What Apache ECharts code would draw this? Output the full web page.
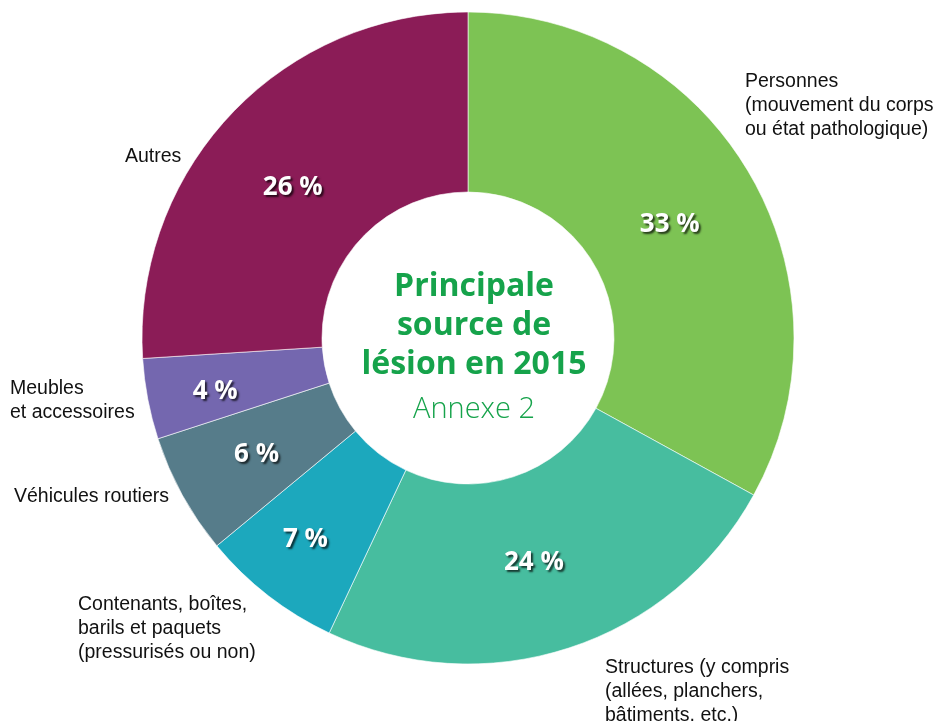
<!DOCTYPE html>
<html><head><meta charset="utf-8">
<script src="https://cdn.jsdelivr.net/npm/echarts@6/dist/echarts.min.js"></script>
<style>html,body{margin:0;padding:0;background:#fff}#c{width:940px;height:721px}</style>
</head><body><div id="c"></div>
<script>
const categories = [
  "Personnes\n(mouvement du corps\nou état pathologique)",
  "Structures (y compris\n(allées, planchers,\nbâtiments, etc.)",
  "Contenants, boîtes,\nbarils et paquets\n(pressurisés ou non)",
  "Véhicules routiers",
  "Meubles\net accessoires",
  "Autres"
];
const values = [33, 24, 7, 6, 4, 26];
const colors = ["#7dc354", "#47bd9f", "#1ca8bd", "#567c8a", "#7467af", "#8b1c57"];
// outer label anchor (left, top) for each category
const labelPos = [[745, 70], [605, 656], [78, 593], [14, 485], [10, 377], [125, 145]];
// fine shift of the percentage labels
const pctShift = [[-4, 8], [-8, -3], [-16, 13], [-2, 1], [-18, 9], [-1, 13]];

const chart = echarts.init(document.getElementById('c'));
const data = categories.map((n, i) => ({ name: n, value: values[i], itemStyle: { color: colors[i] } }));
chart.setOption({
  animation: false,
  title: {
    text: '{b|Principale}\n{b|source de}\n{b|lésion en 2015}\n{n|Annexe 2}',
    left: 469, top: 262, textAlign: 'center',
    textStyle: {
      rich: {
        b: { fontFamily: 'Open Sans', fontWeight: 'bold', fontSize: 32, color: '#16a34b', lineHeight: 39, align: 'center' },
        n: { fontFamily: 'Open Sans', fontWeight: 300, fontSize: 29, color: '#16a34b', lineHeight: 52, align: 'center' }
      }
    }
  },
  series: [
    {
      type: 'pie', center: [468, 338], radius: [146, 326], startAngle: 90, clockwise: true,
      data: data,
      itemStyle: { borderColor: '#fff', borderWidth: 0.6 },
      label: {
        position: 'inside', formatter: p => p.value + ' %',
        fontFamily: 'Open Sans', fontWeight: 'bold', fontSize: 26, color: '#fff',
        textShadowColor: 'rgba(0,0,0,0.7)', textShadowBlur: 2, textShadowOffsetX: 2, textShadowOffsetY: 2
      },
      labelLayout: p => ({ dx: pctShift[p.dataIndex][0], dy: pctShift[p.dataIndex][1] }),
      labelLine: { show: false }, silent: true
    },
    {
      type: 'pie', center: [468, 338], radius: [146, 326], startAngle: 90, clockwise: true,
      data: categories.map((n, i) => ({ name: n, value: values[i] })),
      itemStyle: { color: 'rgba(0,0,0,0)' },
      label: {
        position: 'outside', formatter: '{b}', fontFamily: 'Liberation Sans', fontSize: 19.5,
        color: '#111', lineHeight: 24, align: 'left', overflow: 'none'
      },
      labelLine: { show: false },
      labelLayout: p => ({ x: labelPos[p.dataIndex][0], y: labelPos[p.dataIndex][1], align: 'left', verticalAlign: 'top' }),
      silent: true, z: 3
    }
  ]
});
</script></body></html>
